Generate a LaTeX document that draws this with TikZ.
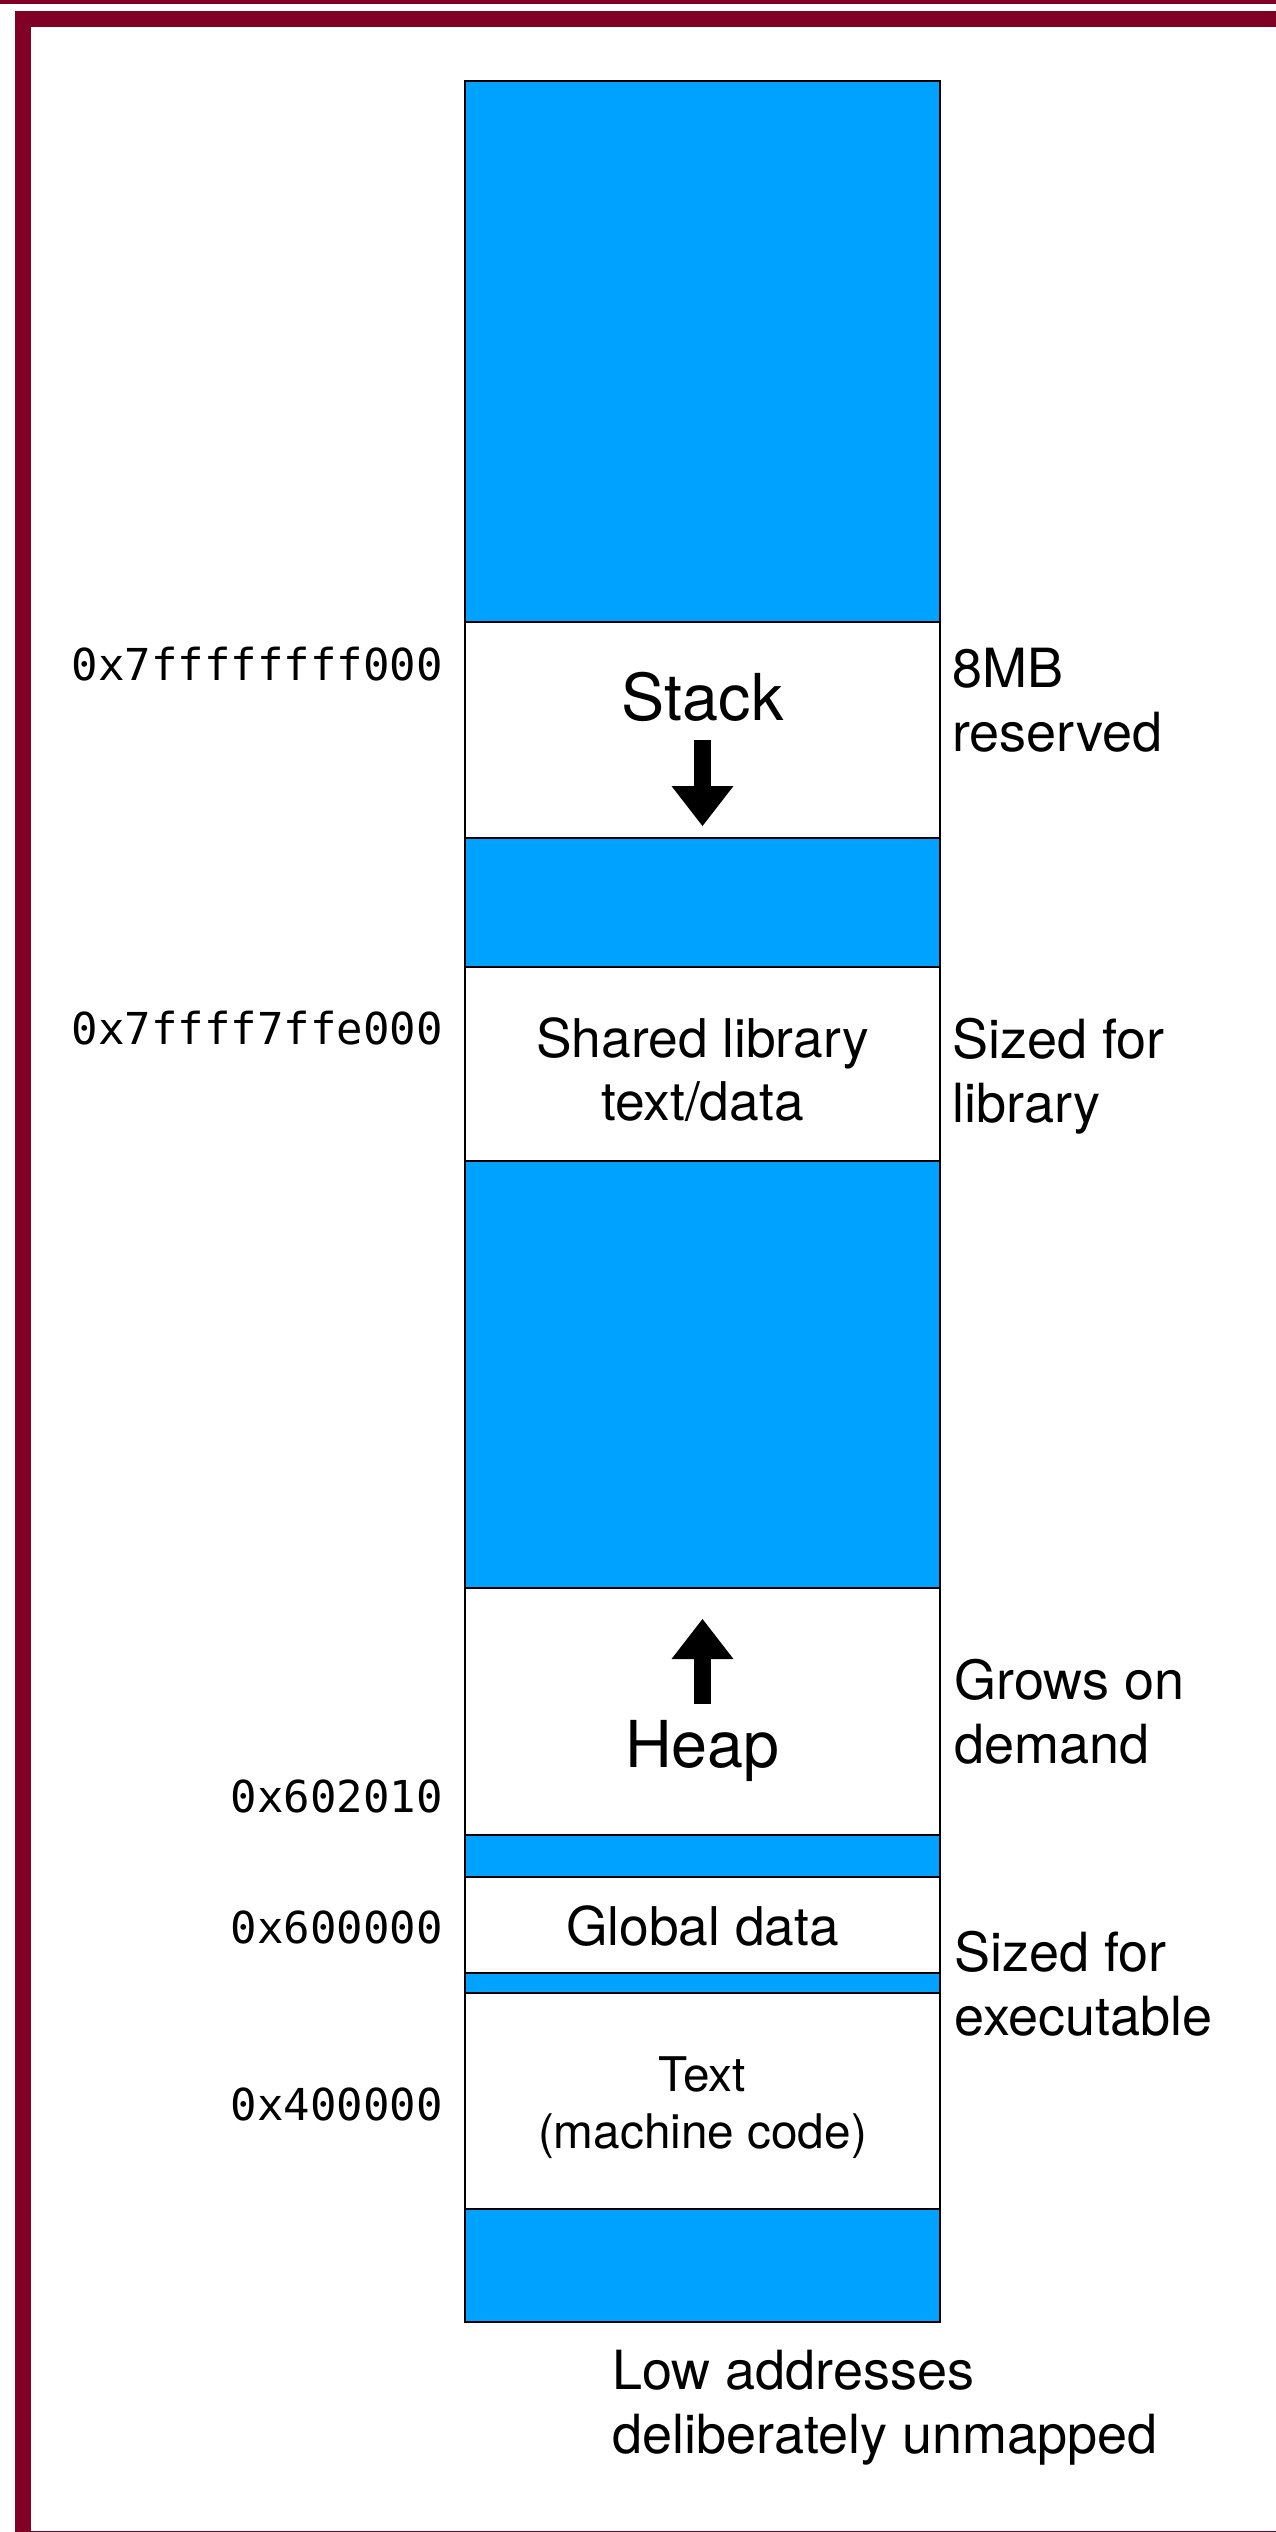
\documentclass[tikz,border=0pt]{standalone}
\usepackage{fontspec}
\setmainfont{TeX Gyre Heros}
\setmonofont{DejaVu Sans Mono}
\usepackage{tikz}

\begin{document}
\begin{tikzpicture}[x=0.75pt,y=0.75pt,yscale=-1,xscale=1,
	unmapped/.style={draw=black, line width=1.75pt, fill={rgb, 255:red, 0; green, 162; blue, 255}},
	mapped/.style={draw=black, line width=1.75pt, fill=white},
	addr/.style={anchor=base east, inner sep=0pt, font=\ttfamily\fontsize{33}{40}\selectfont},
	note/.style={anchor=base west, inner sep=0pt, align=left, font=\fontsize{40.5}{47.5}\selectfont},
	seglabel/.style={anchor=base, inner sep=0pt, align=center, font=\fontsize{40}{47}\selectfont},
	biglabel/.style={anchor=base, inner sep=0pt, font=\fontsize{48.5}{58}\selectfont}]
		%set diagram left start at 0, and has height of 2532
		\clip (0,0) rectangle (1276,2532);
		\fill [white] (0,0) rectangle (1276,2532);
		
		%Shape: Frame
		\fill [color={rgb, 255:red, 128; green, 0; blue, 38 }] (0,0) rectangle (1276,3.5);
		\draw [color={rgb, 255:red, 128; green, 0; blue, 38 }, line width=12pt] (23,19) -- (1300,19) -- (1300,2539) -- (23,2539) -- cycle ;
		
		%Shape: Rectangle (whole address space)
		\draw [unmapped] (465,81) -- (940,81) -- (940,2322) -- (465,2322) -- cycle ;
		%Shape: Rectangle (stack)
		\draw [mapped] (465,622) -- (940,622) -- (940,838) -- (465,838) -- cycle ;
		%Shape: Rectangle (shared library)
		\draw [mapped] (465,967) -- (940,967) -- (940,1161) -- (465,1161) -- cycle ;
		%Shape: Rectangle (heap)
		\draw [mapped] (465,1588) -- (940,1588) -- (940,1835) -- (465,1835) -- cycle ;
		%Shape: Rectangle (global data)
		\draw [mapped] (465,1877) -- (940,1877) -- (940,1973) -- (465,1973) -- cycle ;
		%Shape: Rectangle (text)
		\draw [mapped] (465,1993) -- (940,1993) -- (940,2209) -- (465,2209) -- cycle ;
		
		%Straight Lines (stack grows down)
		\draw [line width=12.75pt] (702.5,740) -- (702.5,788) ;
		\draw [shift={(702.5,826)}, rotate = 270] [fill=black] [draw opacity=0] (40,-31) -- (0,0) -- (40,31) -- cycle ;
		%Straight Lines (heap grows up)
		\draw [line width=12.75pt] (702.5,1704) -- (702.5,1655) ;
		\draw [shift={(702.5,1619)}, rotate = 90] [fill=black] [draw opacity=0] (40,-31) -- (0,0) -- (40,31) -- cycle ;
		
		% Text Node
		\node [biglabel] (stack) at (702.5,720.5) {Stack};
		% Text Node
		\node [seglabel] (shlib) at (702.5,1120.5) {Shared library\\text/data};
		% Text Node
		\node [biglabel] (heap) at (702.5,1767) {Heap};
		% Text Node
		\node [seglabel] (global) at (702.5,1945) {Global data};
		% Text Node
		\node [seglabel, font=\fontsize{35.8}{42.75}\selectfont] (text) at (702.5,2148) {Text\\(machine code)};
		
		% Text Node
		\node [addr] (astack) at (443,680) {0x7ffffffff000};
		% Text Node
		\node [addr] (ashlib) at (443,1044) {0x7ffff7ffe000};
		% Text Node
		\node [addr] (aheap) at (443,1812) {0x602010};
		% Text Node
		\node [addr] (aglobal) at (443,1943) {0x600000};
		% Text Node
		\node [addr] (atext) at (443,2120) {0x400000};
		
		% Text Node
		\node [note] (nstack) at (952,751) {8MB\\reserved};
		% Text Node
		\node [note] (nshlib) at (952,1122) {Sized for\\library};
		% Text Node
		\node [note] (nheap) at (954,1763) {Grows on\\demand};
		% Text Node
		\node [note] (nexec) at (954,2035) {Sized for\\executable};
		% Text Node
		\node [note] (nlow) at (612,2453) {Low addresses\\deliberately unmapped};
	\end{tikzpicture}
\end{document}
